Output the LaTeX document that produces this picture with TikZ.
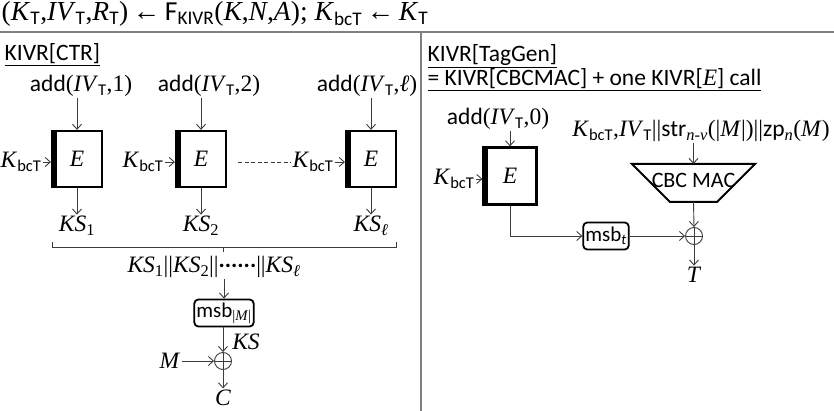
\documentclass[tikz,border=0pt]{standalone}
\usepackage{fontspec}
\setmainfont{Liberation Serif}
\setsansfont{Carlito}
\usetikzlibrary{arrows.meta}
\newcommand\iv[1]{\textit{#1}}
\newcommand\ssub[1]{\textsubscript{\sffamily #1}}
\newcommand\isub[1]{\textsubscript{\itshape #1}}
\newcommand\rsub[1]{\textsubscript{#1}}
\definecolor{divgray}{HTML}{808080}
\definecolor{arrgray}{HTML}{3C3C3C}
\begin{document}
\begin{tikzpicture}[x=1pt,y=-1pt,
  every node/.style={font=\fontsize{23.5}{28}\selectfont, inner sep=1.5pt},
  arr/.style={draw=arrgray, line width=0.9pt, -{Straight Barb[length=5pt,width=9pt]}},
  ln/.style={draw=arrgray, line width=0.9pt},
  divider/.style={draw=divgray, line width=1.8pt},
  ebox/.style={draw=black, line width=2.2pt, minimum width=50pt, minimum height=56pt, inner sep=0pt,
    path picture={\fill[black] (path picture bounding box.north west) rectangle ([xshift=4.5pt]path picture bounding box.south west);}},
  msbbox/.style={draw=black, line width=1.8pt, rounded corners=4pt, minimum height=27pt, inner sep=2pt, font=\fontsize{21}{24}\sffamily},
  xorn/.style={draw=arrgray, line width=0.9pt, circle, minimum size=17pt, inner sep=0pt,
    path picture={\draw[arrgray, line width=0.9pt] (path picture bounding box.north) -- (path picture bounding box.south) (path picture bounding box.west) -- (path picture bounding box.east);}},
  trap/.style={draw=black, line width=2pt, line join=miter}
]
\useasboundingbox (0,0) rectangle (834,411);

% header
\node[anchor=west, font=\fontsize{27.5}{30}\selectfont] (hdr) at (0,14) {(\iv{K}\ssub{T},\iv{IV}\ssub{T},\iv{R}\ssub{T})\,←\,{\sffamily F}\ssub{KIVR}(\iv{K},\iv{N},\iv{A}); \iv{K}\ssub{bcT}\,←\,\iv{K}\ssub{T}};
\coordinate (hl) at (0,32);
\coordinate (hr) at (834,32);
\coordinate (vt) at (421,32);
\coordinate (vb) at (421,411);
\draw[divider] (hl) -- (hr);
\draw[divider] (vt) -- (vb);

% ===== left panel: KIVR[CTR]
\node[anchor=west] (t1) at (3,55) {\underline{\sffamily KIVR[CTR]}};

\node (a1) at (81,86) {{\sffamily add}(\iv{IV}\ssub{T},1)};
\node (a2) at (209,86) {{\sffamily add}(\iv{IV}\ssub{T},2)};
\node (a3) at (367,86) {{\sffamily add}(\iv{IV}\ssub{T},\iv{ℓ})};

\node[ebox] (e1) at (77,159) {\iv{E}};
\node[ebox] (e2) at (201,159) {\iv{E}};
\node[ebox] (e3) at (371,159) {\iv{E}};

\node (k1) at (21,162) {\iv{K}\ssub{bcT}};
\node (k2) at (143,162) {\iv{K}\ssub{bcT}};
\node (k3) at (313,162) {\iv{K}\ssub{bcT}};

\draw[arr] (e1.north |- a1.south) -- (e1.north);
\draw[arr] (e2.north |- a2.south) -- (e2.north);
\draw[arr] (e3.north |- a3.south) -- (e3.north);
\draw[arr] (k1.east) -- (k1.east -| e1.west);
\draw[arr] (k2.east) -- (k2.east -| e2.west);
\draw[arr] (k3.east) -- (k3.east -| e3.west);
\coordinate (dstart) at (238,162);
\draw[ln, dash pattern=on 4pt off 2.5pt] (dstart) -- (k3.west);

\node (s1) at (77,226) {\iv{KS}\rsub{1}};
\node (s2) at (201,226) {\iv{KS}\rsub{2}};
\node (s3) at (371,226) {\iv{KS}\isub{ℓ}};
\draw[arr] (e1.south) -- (s1.north);
\draw[arr] (e2.south) -- (s2.north);
\draw[arr] (e3.south) -- (s3.north);

% brace
\coordinate (bl) at (52,242);
\coordinate (br) at (396,242);
\coordinate (bm) at (223,247);
\coordinate (btip) at (223,252);
\draw[ln, line width=0.8pt] (bl) -- (bl |- bm) -- (br |- bm) -- (br);
\draw[ln, line width=0.8pt] (bm) -- (btip);

\node (cat) at (214,267) {\iv{KS}\rsub{1}||\iv{KS}\rsub{2}||{\sffamily\bfseries\raisebox{0.22em}{......}}||\iv{KS}\isub{ℓ}};
\node[msbbox] (m1) at (224,313) {msb\textsubscript{\rmfamily|\iv{M}|}};
\draw[arr] (m1.north |- cat.south) -- (m1.north);

\node[xorn] (x1) at (223,361) {};
\draw[arr] (m1.south -| x1.north) -- (x1.north);
\node (ks) at (246,342) {\iv{KS}};
\node (mm) at (170,361) {\iv{M}};
\draw[arr] (mm.east) -- (x1.west);
\node (cc) at (223,398) {\iv{C}};
\draw[arr] (x1.south) -- (cc.north);

% ===== right panel: KIVR[TagGen]
\node[anchor=west] (t2) at (426,56) {\underline{\sffamily KIVR[TagGen]}};
\node[anchor=west] (t3) at (426,80) {\underline{\sffamily = KIVR[CBCMAC] + one KIVR[\textrm{\iv{E}}] call}};

\node (a4) at (498,119) {{\sffamily add}(\iv{IV}\ssub{T},0)};
\node[ebox, minimum height=57pt, minimum width=53pt] (e4) at (510,176) {\iv{E}};
\node (k4) at (454,179) {\iv{K}\ssub{bcT}};
\draw[arr] (e4.north |- a4.south) -- (e4.north);
\draw[arr] (k4.east) -- (k4.east -| e4.west);

\node (kiv) at (701,131) {\iv{K}\ssub{bcT},\iv{IV}\ssub{T}||{\sffamily str}\textsubscript{\iv{n}-\iv{ν}}(|\iv{M}|)||{\sffamily zp}\isub{n}(\iv{M})};

\coordinate (ptl) at (632,164);
\coordinate (ptr) at (755,164);
\coordinate (pbr) at (717,202);
\coordinate (pbl) at (670,202);
\coordinate (ptop) at (693.5,164);
\coordinate (pbot) at (693.5,202);
\draw[trap] (ptl) -- (ptr) -- (pbr) -- (pbl) -- cycle;
\node[font=\fontsize{22}{24}\sffamily] (cbc) at (693.5,180) {CBC MAC};
\draw[arr] (kiv.south -| ptop) -- (ptop);

\node[xorn] (x2) at (694,236) {};
\draw[arr] (pbot) -- (x2.north);
\node[msbbox] (m2) at (606,236) {msb\isub{t}};
\draw[arr] (e4.south) |- (m2.west);
\draw[arr] (m2.east) -- (x2.west);
\node (tt) at (694,275) {\iv{T}};
\draw[arr] (x2.south) -- (tt.north);
\end{tikzpicture}
\end{document}
